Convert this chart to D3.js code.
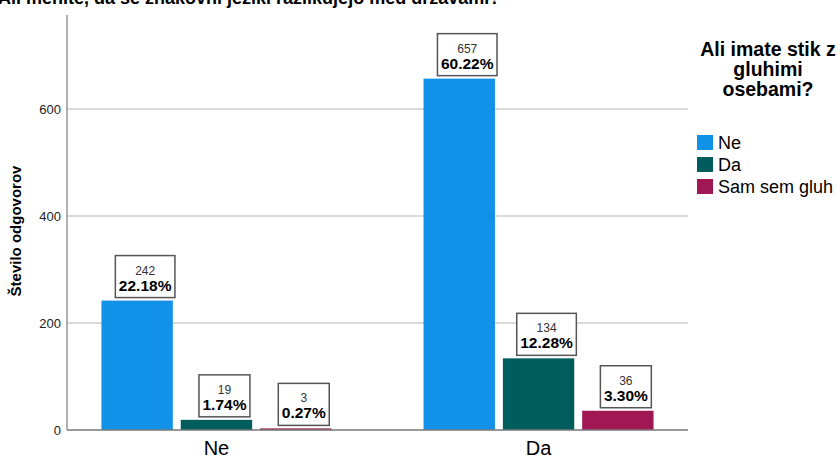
<!DOCTYPE html>
<html>
<head>
<meta charset="utf-8">
<script src="https://cdn.jsdelivr.net/npm/d3@7"></script>
<style>
  body { margin: 0; background: #fff; }
  svg { font-family: "Liberation Sans", Arial, sans-serif; }
</style>
</head>
<body>
<svg id="chart" width="840" height="458"></svg>
<script>
// chart data
const groups = ["Ne", "Da"];
const series = ["Ne", "Da", "Sam sem gluh"];
const counts = {
  "Ne": [242, 19, 3],
  "Da": [657, 134, 36]
};
const percents = {
  "Ne": ["22.18%", "1.74%", "0.27%"],
  "Da": ["60.22%", "12.28%", "3.30%"]
};
const yTicks = [0, 200, 400, 600];
const colors = ["#1192e8", "#005d5d", "#9f1853"];

const svg = d3.select("#chart");
const plotLeft = 67, plotRight = 688, plotBottom = 430, plotTop = 15;

const y = d3.scaleLinear().domain([0, 776]).range([plotBottom, plotTop]);
const x0 = d3.scalePoint().domain(groups).range([plotLeft, plotRight]).padding(0.464);
const x1 = d3.scaleBand().domain(series).range([-115, 115]).paddingInner(0.1);
const color = d3.scaleOrdinal().domain(series).range(colors);

// title, cut off at the top like in the source image
svg.append("text")
  .attr("x", -2).attr("y", 4)
  .attr("font-size", 18).attr("font-weight", "bold")
  .text("Ali menite, da se znakovni jeziki razlikujejo med državami?");

// gridlines
svg.append("g")
  .selectAll("line")
  .data(yTicks.filter(d => d > 0))
  .enter().append("line")
  .attr("x1", plotLeft).attr("x2", plotRight)
  .attr("y1", d => y(d)).attr("y2", d => y(d))
  .attr("stroke", "#d9d9d9").attr("stroke-width", 2);

// y axis
const yAxis = svg.append("g")
  .attr("transform", `translate(${plotLeft},0)`)
  .call(d3.axisLeft(y).tickValues(yTicks).tickSize(0).tickPadding(6));
yAxis.select(".domain").remove();
yAxis.selectAll("text").attr("font-size", 13).attr("fill", "#222")
  .attr("font-family", "Liberation Sans, Arial, sans-serif");
svg.append("line")
  .attr("x1", plotLeft).attr("x2", plotLeft).attr("y1", plotTop).attr("y2", plotBottom)
  .attr("stroke", "#888").attr("stroke-width", 1.3);

svg.append("text")
  .attr("transform", "translate(21,231) rotate(-90)")
  .attr("text-anchor", "middle")
  .attr("font-size", 15).attr("font-weight", "bold")
  .text("Število odgovorov");

// bars
const rows = [];
groups.forEach(g => series.forEach((s, i) => {
  rows.push({ group: g, key: s, value: counts[g][i], pct: percents[g][i] });
}));

const barX = d => x0(d.group) + x1(d.key);

svg.append("g")
  .selectAll("rect")
  .data(rows)
  .enter().append("rect")
  .attr("x", barX)
  .attr("y", d => y(d.value))
  .attr("width", x1.bandwidth())
  .attr("height", d => plotBottom - y(d.value))
  .attr("fill", d => color(d.key));

// x axis
svg.append("line")
  .attr("x1", plotLeft).attr("x2", plotRight).attr("y1", plotBottom).attr("y2", plotBottom)
  .attr("stroke", "#777").attr("stroke-width", 1.3);

svg.append("g")
  .selectAll("text")
  .data(groups)
  .enter().append("text")
  .attr("x", d => x0(d))
  .attr("y", 455)
  .attr("text-anchor", "middle")
  .attr("font-size", 20)
  .text(d => d);

// value label boxes
const labels = svg.append("g")
  .selectAll("g")
  .data(rows)
  .enter().append("g");

labels.each(function (d) {
  const g = d3.select(this);
  const cx = barX(d) + x1.bandwidth() / 2 + 8;
  const bBottom = y(d.value) - 3;
  const bTop = bBottom - 42;
  const box = g.append("rect");
  g.append("text")
    .attr("x", cx).attr("y", bTop + 19)
    .attr("text-anchor", "middle")
    .attr("font-size", 12).attr("fill", "#333")
    .text(d.value);
  const pt = g.append("text")
    .attr("x", cx).attr("y", bTop + 35)
    .attr("text-anchor", "middle")
    .attr("font-size", 15.5).attr("font-weight", "bold")
    .text(d.pct);
  const w = pt.node().getComputedTextLength() + 7;
  box.attr("x", cx - w / 2).attr("y", bTop)
    .attr("width", w).attr("height", 42)
    .attr("fill", "#fff").attr("stroke", "#555").attr("stroke-width", 1.5);
});

// legend
const legendTitle = ["Ali imate stik z", "gluhimi", "osebami?"];
svg.append("g")
  .selectAll("text")
  .data(legendTitle)
  .enter().append("text")
  .attr("x", 768)
  .attr("y", (d, i) => 56 + i * 20)
  .attr("text-anchor", "middle")
  .attr("font-size", 19.5).attr("font-weight", "bold")
  .text(d => d);

const legend = svg.append("g")
  .selectAll("g")
  .data(series)
  .enter().append("g")
  .attr("transform", (d, i) => `translate(697,${135 + i * 22})`);
legend.append("rect")
  .attr("width", 16).attr("height", 15)
  .attr("fill", d => color(d));
legend.append("text")
  .attr("x", 21).attr("y", 14)
  .attr("font-size", 18)
  .text(d => d);
</script>
</body>
</html>
